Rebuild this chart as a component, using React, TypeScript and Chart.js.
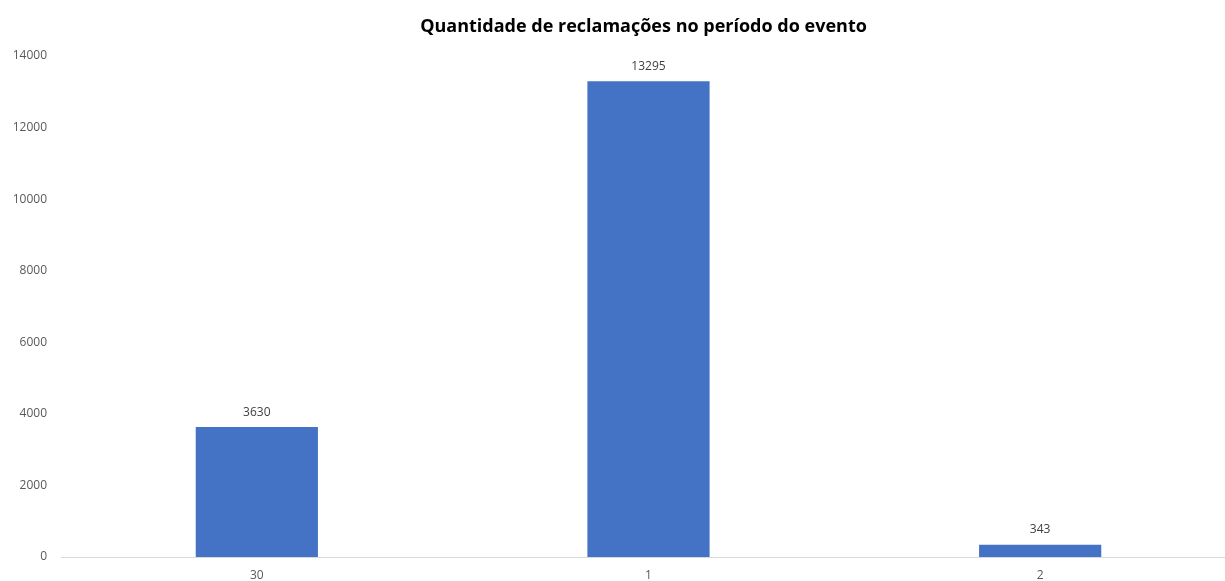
import React, { useEffect, useRef } from "react";
import { Chart, registerables } from "chart.js";

Chart.register(...registerables);

const categories = ["30", "1", "2"];
const values = [3630, 13295, 343];
const yTicks = [0, 2000, 4000, 6000, 8000, 10000, 12000, 14000];
const titleText = "Quantidade de reclamações no período do evento";

const labelPlugin = {
  id: "barLabels",
  afterDatasetsDraw(chart: any) {
    const { ctx } = chart;
    const meta = chart.getDatasetMeta(0);
    ctx.save();
    ctx.font = "12px 'Open Sans'";
    ctx.fillStyle = "#404040";
    ctx.textAlign = "center";
    ctx.textBaseline = "middle";
    meta.data.forEach((el: any, i: number) => {
      ctx.fillText(String(values[i]), el.x, el.y - 15);
    });
    ctx.restore();
  },
};

const titlePlugin = {
  id: "customTitle",
  afterDraw(chart: any) {
    const { ctx, chartArea } = chart;
    ctx.save();
    ctx.font = "bold 18px 'Open Sans'";
    ctx.fillStyle = "#000000";
    ctx.textAlign = "center";
    ctx.textBaseline = "middle";
    ctx.fillText(titleText, (chartArea.left + chartArea.right) / 2 - 5, 27);
    ctx.restore();
  },
};

export default function App() {
  const ref = useRef<HTMLCanvasElement | null>(null);
  useEffect(() => {
    document.body.style.overflow = "hidden";
    const chart = new Chart(ref.current as HTMLCanvasElement, {
      type: "bar",
      data: {
        labels: categories,
        datasets: [
          {
            data: values,
            backgroundColor: "#4472C4",
            barPercentage: 0.312,
            categoryPercentage: 1,
          },
        ],
      },
      options: {
        animation: false,
        responsive: false,
        layout: { padding: { top: 56, right: 50, bottom: 0, left: 0 } },
        plugins: { legend: { display: false }, title: { display: false }, tooltip: { enabled: false } },
        scales: {
          x: {
            grid: { display: false },
            border: { display: true, color: "#d9d9d9", width: 1 },
            ticks: { color: "#595959", font: { family: "'Open Sans'", size: 12 }, padding: 3 },
            afterFit: (s: any) => {
              s.height = 24;
            },
          },
          y: {
            min: 0,
            max: 14000,
            afterBuildTicks: (s: any) => {
              s.ticks = yTicks.map((v) => ({ value: v }));
            },
            grid: { display: false },
            border: { display: false },
            ticks: {
              color: "#595959",
              font: { family: "'Open Sans'", size: 12 },
              padding: 6,
              callback: (v: any) => String(v),
            },
            afterFit: (s: any) => {
              s.width = 61;
            },
          },
        },
      },
      plugins: [labelPlugin, titlePlugin],
    });
    return () => chart.destroy();
  }, []);
  return (
    <div style={{ position: "fixed", left: 0, top: 0, width: 1286, height: 581, background: "#fff" }}>
      <canvas ref={ref} width={1286} height={581} style={{ width: 1286, height: 581 }} />
    </div>
  );
}
